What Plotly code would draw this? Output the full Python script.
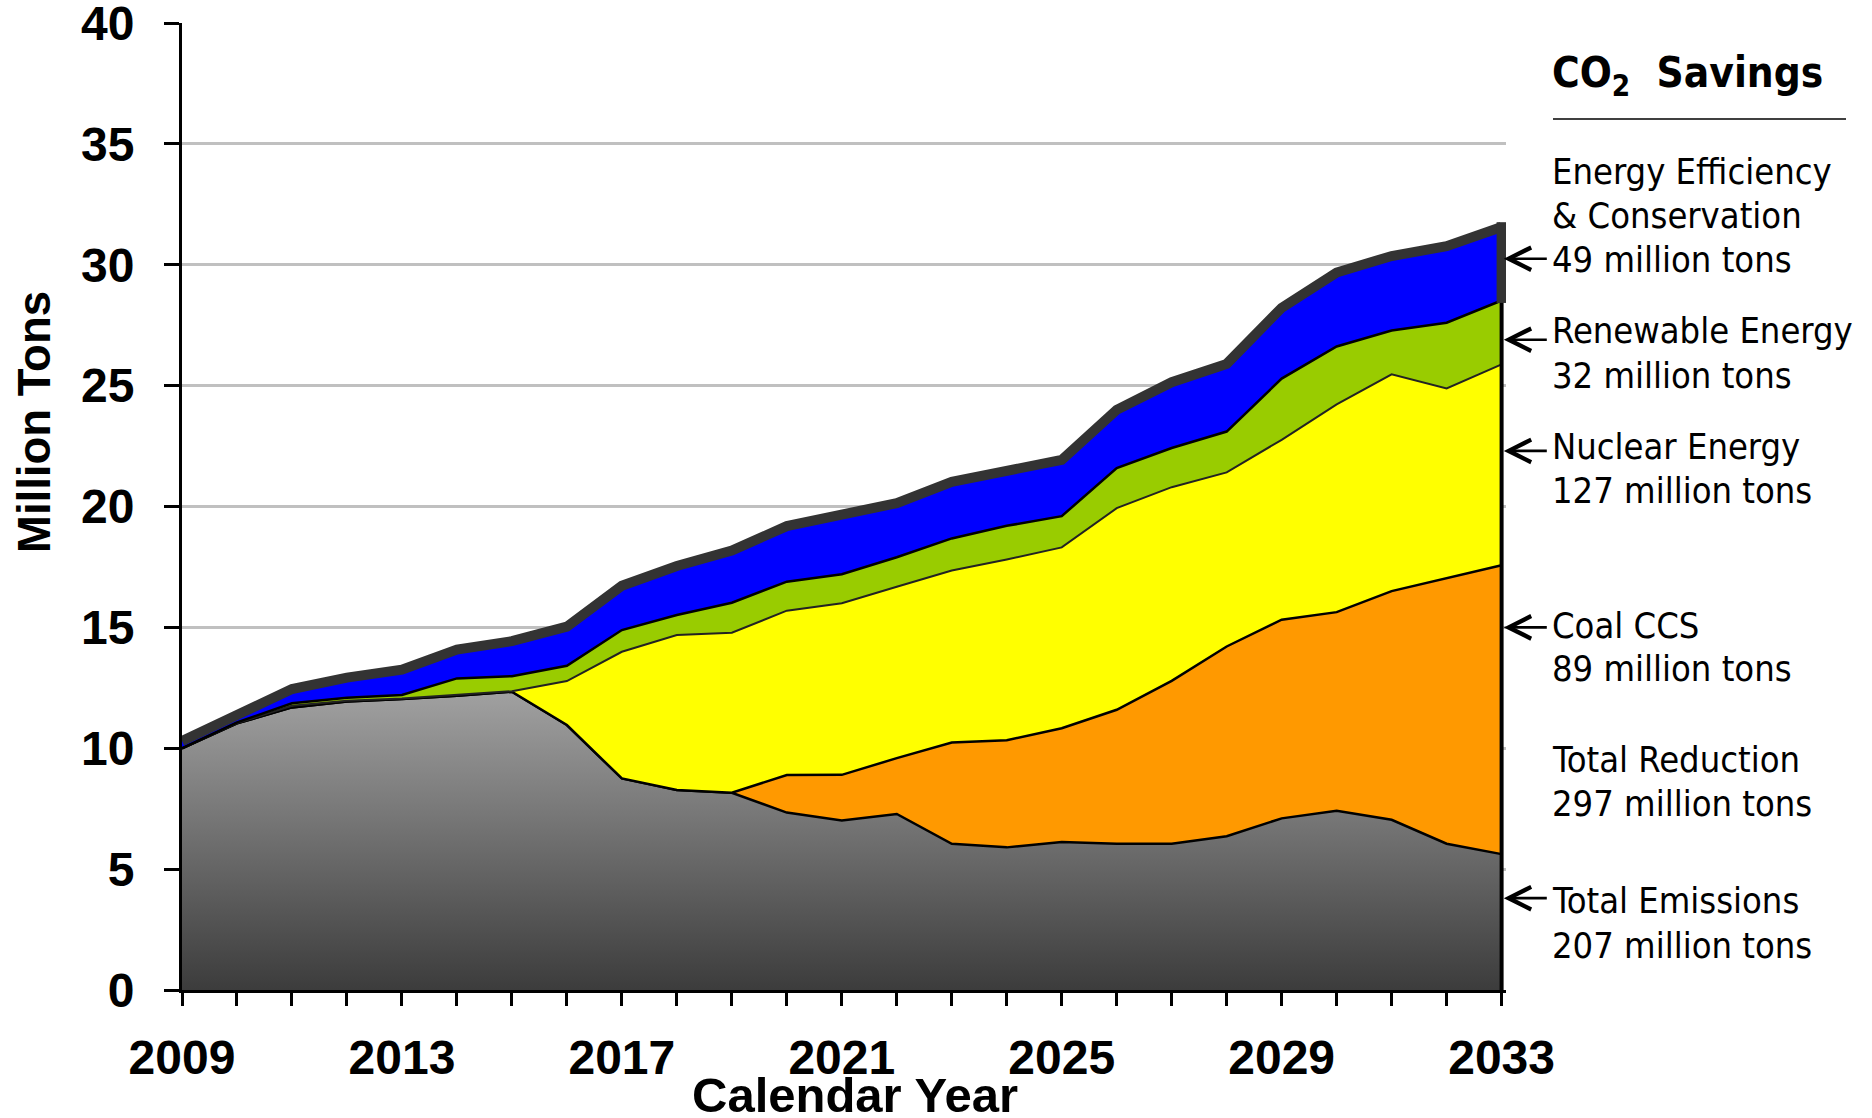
import plotly.graph_objects as go

# ---------------- data ----------------
years = list(range(2009, 2034))

total_emissions = [10.0, 11.03, 11.69, 11.93, 12.04, 12.17, 12.34, 10.96, 8.75, 8.27,
                   8.16, 7.34, 7.01, 7.28, 6.05, 5.90, 6.12, 6.05, 6.05, 6.36,
                   7.10, 7.41, 7.04, 6.05, 5.62]
coal_ccs = [0, 0, 0, 0, 0, 0, 0, 0, 0, 0,
            0, 1.55, 1.89, 2.31, 4.19, 4.43, 4.71, 5.54, 6.74, 7.85,
            8.22, 8.22, 9.46, 10.97, 11.95]
nuclear = [0, 0.01, 0.07, 0.04, 0.02, 0.03, 0.02, 1.82, 5.24, 6.41,
           6.62, 6.80, 7.10, 7.09, 7.11, 7.48, 7.48, 8.34, 8.01, 7.20,
           7.44, 8.59, 8.97, 7.86, 8.31]
renewable = [0, 0.03, 0.10, 0.12, 0.14, 0.69, 0.62, 0.63, 0.90, 0.83,
             1.24, 1.20, 1.20, 1.22, 1.33, 1.39, 1.29, 1.66, 1.62, 1.69,
             2.53, 2.40, 1.81, 2.72, 2.64]
efficiency = [0.30, 0.33, 0.59, 0.83, 1.05, 1.19, 1.45, 1.62, 1.83, 2.03,
              2.16, 2.30, 2.42, 2.24, 2.34, 2.30, 2.33, 2.41, 2.72, 2.80,
              2.93, 3.06, 3.08, 3.17, 3.04]

x_tick_years = [2009, 2013, 2017, 2021, 2025, 2029, 2033]
y_tick_values = [0, 5, 10, 15, 20, 25, 30, 35, 40]

legend_title = "CO<sub>2</sub>&nbsp; Savings"
label_lines = [
    "Energy Efficiency", "& Conservation", "49 million tons",
    "Renewable Energy", "32 million tons",
    "Nuclear Energy", "127 million tons",
    "Coal CCS", "89 million tons",
    "Total Reduction", "297 million tons",
    "Total Emissions", "207 million tons",
]
arrow_values = [30.25, 26.9, 22.3, 15.0, 3.8]

# ---------------- geometry ----------------
W, H = 1872, 1118
ML, MR, MT, MB = 182, 366, 23, 128
PW = W - ML - MR
PH = H - MT - MB


def pxx(px):
    return (px - ML) / PW


def pxy(py):
    return (H - MB - py) / PH


BOLD = "Liberation Sans, Arial, sans-serif"
LABEL = "DejaVu Sans Condensed, DejaVu Sans, sans-serif"

fig = go.Figure()

series = [
    ("Total Emissions", total_emissions, None, "black", 2.5),
    ("Coal CCS", coal_ccs, "#FF9900", "black", 2.5),
    ("Nuclear Energy", nuclear, "#FFFF00", "#222222", 2),
    ("Renewable Energy", renewable, "#99CC00", "black", 2.5),
    ("Energy Efficiency", efficiency, "#0000FF", "#333333", 10),
]

for i, (name, vals, color, lcolor, lw) in enumerate(series):
    kw = {}
    if i == 0:
        kw["fillgradient"] = dict(type="vertical",
                                  colorscale=[[0, "#3c3c3c"], [1, "#a2a2a2"]],
                                  start=0, stop=12.5)
    else:
        kw["fillcolor"] = color
    fig.add_trace(go.Scatter(
        x=years, y=vals, name=name, mode="lines", stackgroup="s",
        line=dict(color=lcolor, width=lw), hoverinfo="skip", **kw))

# right-hand vertical edges of the stack
top_green = total_emissions[-1] + coal_ccs[-1] + nuclear[-1] + renewable[-1]
top_all = top_green + efficiency[-1]
fig.add_trace(go.Scatter(x=[years[-1], years[-1]], y=[0, top_green], mode="lines",
                         line=dict(color="black", width=4), hoverinfo="skip"))
fig.add_trace(go.Scatter(x=[years[-1], years[-1]], y=[top_green - 0.1, top_all + 0.2], mode="lines",
                         line=dict(color="#333333", width=10), hoverinfo="skip"))

fig.update_layout(
    width=W, height=H,
    margin=dict(l=ML, r=MR, t=MT, b=MB, autoexpand=False),
    paper_bgcolor="white", plot_bgcolor="white",
    showlegend=False, hovermode=False,
)

fig.update_xaxes(
    range=[2009, 2033.08], automargin=False,
    tickmode="array", tickvals=x_tick_years, ticktext=[str(v) for v in x_tick_years],
    ticks="outside", ticklen=13, tickwidth=3, tickcolor="black",
    minor=dict(tickmode="array", tickvals=years, ticks="outside", ticklen=13,
               tickwidth=3, tickcolor="black"),
    tickfont=dict(family=BOLD, size=48, color="black", weight="bold"),
    ticklabelstandoff=10, ticklabeloverflow="allow",
    showline=True, linecolor="black", linewidth=3,
    showgrid=False, zeroline=False,
)
fig.update_yaxes(
    range=[0, 40], automargin=False,
    tickmode="array", tickvals=y_tick_values, ticktext=[str(v) for v in y_tick_values],
    ticks="outside", ticklen=15, tickwidth=3, tickcolor="black",
    tickfont=dict(family=BOLD, size=48, color="black", weight="bold"),
    ticklabelstandoff=20, ticklabeloverflow="allow",
    showline=True, linecolor="black", linewidth=3,
    showgrid=True, gridcolor="#c0c0c0", gridwidth=2.5, zeroline=False,
)

ann = []
# axis titles
ann.append(dict(text="Million Tons", xref="paper", yref="paper", x=pxx(34), y=pxy(422),
                textangle=-90, showarrow=False, xanchor="center", yanchor="middle",
                font=dict(family=BOLD, size=45.5, color="black", weight="bold")))
ann.append(dict(text="Calendar Year", xref="paper", yref="paper", x=pxx(855), y=pxy(1095),
                showarrow=False, xanchor="center", yanchor="middle",
                font=dict(family=BOLD, size=49, color="black", weight="bold")))
# legend title
ann.append(dict(text=legend_title, xref="paper", yref="paper", x=pxx(1550), y=pxy(76),
                showarrow=False, xanchor="left", yanchor="middle",
                font=dict(family=LABEL, size=42, color="black", weight="bold")))
# labels, one line each
line_centers = [172, 215, 259, 330, 375, 446, 490, 625, 668, 759, 803, 900, 945]
for txt, cy in zip(label_lines, line_centers):
    ann.append(dict(text=txt, xref="paper", yref="paper", x=pxx(1550), y=pxy(cy),
                    showarrow=False, xanchor="left", yanchor="middle", align="left",
                    font=dict(family=LABEL, size=36, color="black")))
# arrows
for v in arrow_values:
    ann.append(dict(text=" ", x=years[-1] + 0.04, y=v, xref="x", yref="y",
                    showarrow=True, ax=46, ay=0, axref="pixel", ayref="pixel",
                    arrowhead=5, arrowsize=1.7, arrowwidth=2.6, arrowcolor="black",
                    standoff=0))
fig.update_layout(annotations=ann)

fig.add_shape(type="line", xref="paper", yref="paper",
              x0=pxx(1553), x1=pxx(1846), y0=pxy(119), y1=pxy(119),
              line=dict(color="black", width=1.5))

fig.write_html("out.html")
